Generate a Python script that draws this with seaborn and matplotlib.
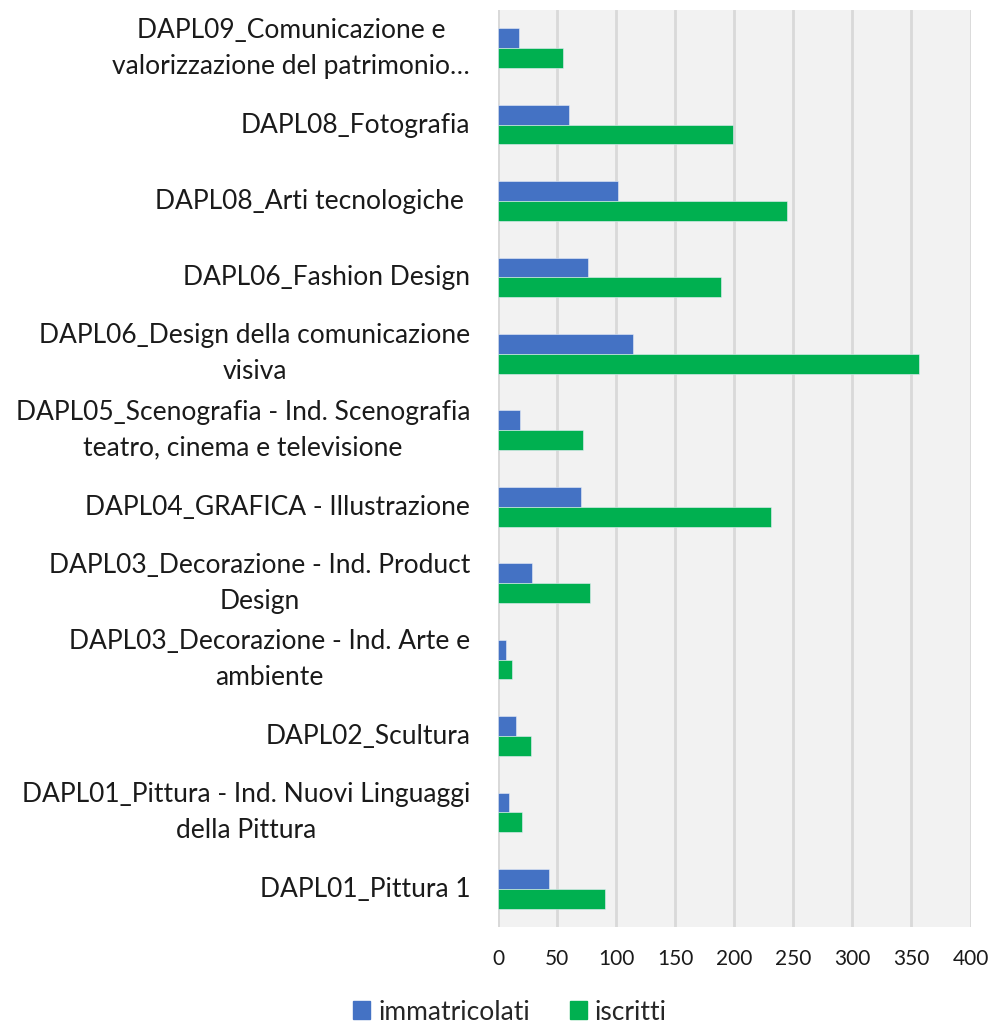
import pandas as pd
import numpy as np
import matplotlib.pyplot as plt
import matplotlib.transforms as mtransforms
import seaborn as sns

# --- data ---
categories = [
    "DAPL09_Comunicazione e\nvalorizzazione del patrimonio…",
    "DAPL08_Fotografia",
    "DAPL08_Arti tecnologiche ",
    "DAPL06_Fashion Design",
    "DAPL06_Design della comunicazione\nvisiva",
    "DAPL05_Scenografia - Ind. Scenografia\nteatro, cinema e televisione",
    "DAPL04_GRAFICA - Illustrazione",
    "DAPL03_Decorazione - Ind. Product\nDesign",
    "DAPL03_Decorazione - Ind. Arte e\nambiente",
    "DAPL02_Scultura",
    "DAPL01_Pittura - Ind. Nuovi Linguaggi\ndella Pittura",
    "DAPL01_Pittura 1",
]
immatricolati = [18, 60, 102, 76, 114, 19, 70, 29, 7, 15, 9, 43]
iscritti = [55, 199, 245, 189, 356, 72, 231, 78, 12, 28, 20, 91]
series_names = ["immatricolati", "iscritti"]
x_ticks = [0, 50, 100, 150, 200, 250, 300, 350, 400]

BLUE = "#4472C4"
GREEN = "#00B050"
PLOT_BG = "#F2F2F2"
GRID = "#D9D9D9"

df = pd.DataFrame({
    "corso": categories * 2,
    "valore": immatricolati + iscritti,
    "serie": [series_names[0]] * len(categories) + [series_names[1]] * len(categories),
})

sns.set_theme(style="white")
plt.rcParams["font.family"] = ["Lato", "DejaVu Sans"]

fig = plt.figure(figsize=(9.92, 10.24), dpi=100)
ax = fig.add_axes([498 / 992, 1 - 927 / 1024, (970.5 - 498) / 992, (927 - 10) / 1024])
ax.set_facecolor(PLOT_BG)

sns.barplot(
    data=df, y="corso", x="valore", hue="serie", order=categories,
    hue_order=series_names, palette=[BLUE, GREEN], orient="h", saturation=1,
    width=0.52, gap=0, edgecolor="#e8eef8", linewidth=0.4, legend=False, ax=ax,
)

ax.set_xlim(0, 400)
ax.set_xticks(x_ticks)
ax.set_ylim(len(categories) - 0.5, -0.5)
ax.xaxis.grid(True, color=GRID, linewidth=2)
ax.set_axisbelow(True)
for s in ax.spines.values():
    s.set_visible(False)
ax.axvline(0, color=GRID, linewidth=2, zorder=0.5)

ax.set_xlabel("")
ax.set_ylabel("")
ax.tick_params(axis="x", length=0, pad=16, labelsize=15, labelcolor="#1a1a1a")
ax.tick_params(axis="y", length=0, pad=20, labelsize=19, labelcolor="#1a1a1a")

# multi-line labels sit a bit low in matplotlib, nudge them up
for lab in ax.get_yticklabels():
    lab.set_multialignment("center")
    lab.set_linespacing(1.55)
    dy = 0.08 if "\n" in lab.get_text() else 0.02
    lab.set_transform(lab.get_transform() + mtransforms.ScaledTranslation(0, dy, fig.dpi_scale_trans))

handles = [plt.Rectangle((0, 0), 1, 1, color=c) for c in (BLUE, GREEN)]
fig.legend(
    handles, series_names, loc="center", bbox_to_anchor=(510 / 992, 1 - 1012 / 1024),
    ncol=2, frameon=False, fontsize=19, handlelength=0.65, handleheight=0.65,
    handletextpad=0.3, columnspacing=1.5,
)

fig.savefig("out.png", dpi=100, facecolor="white")
